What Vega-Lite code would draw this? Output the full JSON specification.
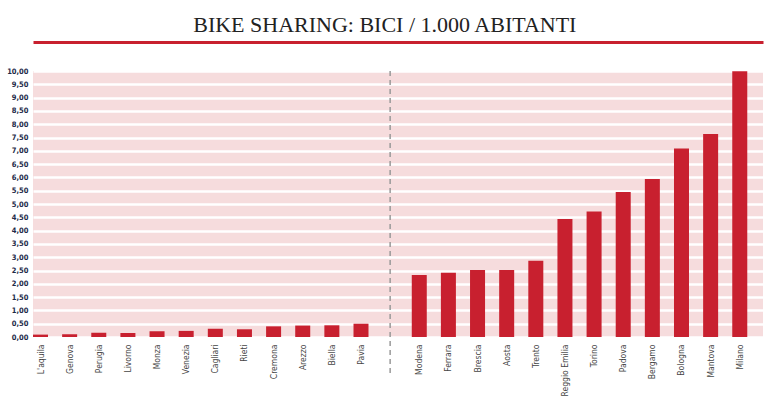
{
  "$schema": "https://vega.github.io/schema/vega-lite/v6.json",
  "width": 730,
  "height": 266,
  "padding": {"left": 6, "right": 5, "top": 14, "bottom": 0},
  "background": "white",
  "title": {
    "text": "BIKE SHARING: BICI / 1.000 ABITANTI",
    "font": "Liberation Serif",
    "fontSize": 22,
    "fontWeight": "normal",
    "color": "#222222",
    "anchor": "middle",
    "frame": "bounds",
    "offset": 5
  },
  "config": {
    "view": {"fill": "#f6dcdd", "stroke": null}
  },
  "datasets": {
    "bars": [
      {"citta": "L'aquila", "bici": 0.09},
      {"citta": "Genova", "bici": 0.10},
      {"citta": "Perugia", "bici": 0.16},
      {"citta": "Livorno", "bici": 0.15},
      {"citta": "Monza", "bici": 0.22},
      {"citta": "Venezia", "bici": 0.23},
      {"citta": "Cagliari", "bici": 0.31},
      {"citta": "Rieti", "bici": 0.29},
      {"citta": "Cremona", "bici": 0.40},
      {"citta": "Arezzo", "bici": 0.43},
      {"citta": "Biella", "bici": 0.44},
      {"citta": "Pavia", "bici": 0.50},
      {"citta": "Modena", "bici": 2.33},
      {"citta": "Ferrara", "bici": 2.42},
      {"citta": "Brescia", "bici": 2.52},
      {"citta": "Aosta", "bici": 2.52},
      {"citta": "Trento", "bici": 2.87},
      {"citta": "Reggio Emilia", "bici": 4.44},
      {"citta": "Torino", "bici": 4.72},
      {"citta": "Padova", "bici": 5.45},
      {"citta": "Bergamo", "bici": 5.94},
      {"citta": "Bologna", "bici": 7.09},
      {"citta": "Mantova", "bici": 7.63},
      {"citta": "Milano", "bici": 9.99}
    ],
    "divisore": [
      {"citta": " ", "top": 10, "bottom": -1.35}
    ]
  },
  "layer": [
    {
      "data": {"name": "bars"},
      "mark": {"type": "bar", "color": "#c8202f"},
      "encoding": {
        "x": {
          "field": "citta",
          "type": "nominal",
          "scale": {
            "domain": ["L'aquila", "Genova", "Perugia", "Livorno", "Monza", "Venezia", "Cagliari", "Rieti", "Cremona", "Arezzo", "Biella", "Pavia", " ", "Modena", "Ferrara", "Brescia", "Aosta", "Trento", "Reggio Emilia", "Torino", "Padova", "Bergamo", "Bologna", "Mantova", "Milano"],
            "paddingInner": 0.485,
            "paddingOuter": 0.27,
            "align": 0
          },
          "axis": {
            "orient": "bottom",
            "title": null,
            "labelAngle": -90,
            "labelAlign": "right",
            "labelBaseline": "middle",
            "labelFont": "DejaVu Sans Condensed",
            "labelFontSize": 8.5,
            "labelColor": "#444444",
            "labelPadding": 7,
            "ticks": false,
            "domain": false,
            "grid": false
          }
        },
        "y": {
          "field": "bici",
          "type": "quantitative",
          "scale": {"domain": [0, 10], "nice": false},
          "axis": {
            "title": null,
            "values": [0, 0.5, 1, 1.5, 2, 2.5, 3, 3.5, 4, 4.5, 5, 5.5, 6, 6.5, 7, 7.5, 8, 8.5, 9, 9.5, 10],
            "labelExpr": "replace(format(datum.value, '.2f'), '.', ',')",
            "labelOverlap": false,
            "labelFont": "DejaVu Sans Condensed",
            "labelFontWeight": "bold",
            "labelFontSize": 7.5,
            "labelColor": "#1c2a48",
            "labelPadding": 5,
            "ticks": false,
            "domain": false,
            "grid": true,
            "gridColor": "white",
            "gridWidth": 2.5,
            "gridOpacity": 1
          }
        }
      }
    },
    {
      "data": {"name": "divisore"},
      "mark": {"type": "rule", "color": "#999999", "strokeDash": [5, 4], "strokeWidth": 1.5, "clip": false},
      "encoding": {
        "x": {
          "field": "citta",
          "type": "nominal",
          "axis": {
            "orient": "top",
            "offset": 29,
            "title": null,
            "labels": false,
            "ticks": false,
            "grid": false,
            "domain": true,
            "domainColor": "#c8202f",
            "domainWidth": 3
          }
        },
        "y": {
          "field": "top",
          "type": "quantitative",
          "axis": {
            "title": null,
            "values": [0, 0.5, 1, 1.5, 2, 2.5, 3, 3.5, 4, 4.5, 5, 5.5, 6, 6.5, 7, 7.5, 8, 8.5, 9, 9.5, 10],
            "labelExpr": "replace(format(datum.value, '.2f'), '.', ',')",
            "labelOverlap": false,
            "labelFont": "DejaVu Sans Condensed",
            "labelFontWeight": "bold",
            "labelFontSize": 7.5,
            "labelColor": "#1c2a48",
            "labelPadding": 5,
            "ticks": false,
            "domain": false,
            "grid": true,
            "gridColor": "white",
            "gridWidth": 2.5,
            "gridOpacity": 1
          }
        },
        "y2": {"field": "bottom"}
      }
    }
  ],
  "resolve": {"axis": {"x": "independent"}}
}
